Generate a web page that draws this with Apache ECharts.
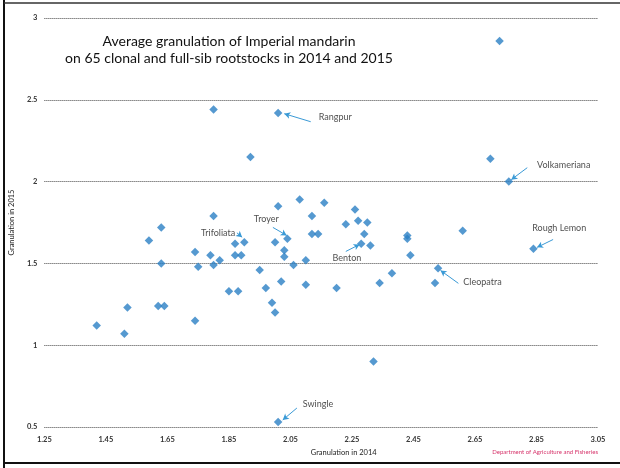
<!DOCTYPE html>
<html><head><meta charset="utf-8">
<script src="https://cdn.jsdelivr.net/npm/echarts@6/dist/echarts.min.js"></script>
<style>html,body{margin:0;padding:0;background:#fff}#c{width:620px;height:468px}</style>
</head><body><div id="c"></div><script>
// Average granulation per rootstock (2014 on x, 2015 on y)
const gran2014 = [1.80,2.01,1.92,2.73,2.70,2.76,1.80,2.01,2.08,2.16,2.12,1.63,1.59,1.87,1.90,2.04,2.00,2.12,2.14,1.74,1.79,1.87,1.89,2.03,2.03,1.82,1.80,1.63,1.75,1.95,2.06,2.02,1.97,1.85,1.88,1.99,1.62,1.64,2.00,2.26,2.23,2.27,2.30,2.29,2.28,2.31,2.43,2.43,2.44,2.10,2.10,2.20,2.34,2.38,2.53,2.52,2.61,2.84,2.32,1.52,1.74,1.42,1.51,2.01];
const gran2015 = [2.44,2.42,2.15,2.86,2.14,2.00,1.79,1.85,1.89,1.87,1.79,1.72,1.64,1.62,1.63,1.65,1.63,1.68,1.68,1.57,1.55,1.55,1.55,1.58,1.54,1.52,1.49,1.50,1.48,1.46,1.49,1.39,1.35,1.33,1.33,1.26,1.24,1.24,1.20,1.83,1.74,1.76,1.75,1.68,1.62,1.61,1.67,1.65,1.55,1.52,1.37,1.35,1.38,1.44,1.47,1.38,1.70,1.59,0.90,1.23,1.15,1.12,1.07,0.53];

// Named rootstocks: label anchor, arrow tail, arrow head (data units)
const annoNames = ['Rangpur','Trifoliata','Troyer','Benton','Volkameriana','Rough Lemon','Cleopatra','Swingle'];
const annoTextX = [2.142,1.759,1.931,2.187,2.852,2.836,2.612,2.090];
const annoTextY = [2.396,1.683,1.768,1.530,2.098,1.713,1.384,0.640];
const arrowFromX = [2.116,1.876,1.993,2.230,2.820,2.904,2.596,2.071];
const arrowFromY = [2.366,1.687,1.720,1.573,2.085,1.646,1.378,0.616];
const arrowToX   = [2.030,1.893,2.038,2.275,2.768,2.852,2.538,2.025];
const arrowToY   = [2.415,1.660,1.671,1.616,2.012,1.598,1.457,0.543];

const xMin = 1.25, xMax = 3.05, xStep = 0.2;
const yMin = 0.5, yMax = 3, yStep = 0.5;

const pts = gran2014.map((x, i) => [x, gran2015[i]]);
const labelPts = annoNames.map((n, i) => [annoTextX[i], annoTextY[i], n]);
const arrows = annoNames.map((n, i) => [{coord: [arrowFromX[i], arrowFromY[i]]}, {coord: [arrowToX[i], arrowToY[i]]}]);

const FONT = 'Lato';
const chart = echarts.init(document.getElementById('c'), null, {renderer: 'canvas'});
chart.setOption({
  animation: false,
  backgroundColor: '#fff',
  title: {
    text: 'Average granulation of Imperial mandarin\non 65 clonal and full-sib rootstocks in 2014 and 2015',
    left: 224, top: 28, textAlign: 'center',
    textStyle: {fontFamily: FONT, fontSize: 14, fontWeight: 'normal', color: '#111', lineHeight: 17}
  },
  grid: {left: 43, right: 22, top: 18, bottom: 41},
  xAxis: {
    type: 'value', min: xMin, max: xMax, interval: xStep,
    name: 'Granulation in 2014', nameLocation: 'middle', nameGap: 22,
    nameTextStyle: {fontFamily: FONT, fontSize: 7.5, color: '#222', padding: [0, 0, 0, 45]},
    axisLine: {show: false}, axisTick: {show: false}, splitLine: {show: false},
    axisLabel: {fontFamily: FONT, fontSize: 7.5, fontWeight: 'bold', color: '#333', margin: 9, formatter: v => v.toFixed(2)}
  },
  yAxis: {
    type: 'value', min: yMin, max: yMax, interval: yStep,
    name: 'Granulation in 2015', nameLocation: 'middle', nameGap: 22, nameRotate: 90,
    nameTextStyle: {fontFamily: FONT, fontSize: 7.5, color: '#222'},
    axisLine: {show: false}, axisTick: {show: false},
    axisLabel: {fontFamily: FONT, fontSize: 7.5, fontWeight: 'bold', color: '#333', margin: 7},
    splitLine: {show: true, lineStyle: {color: '#444', type: [1, 1], width: 1}}
  },
  series: [
    {
      type: 'scatter', data: pts, symbol: 'diamond', symbolSize: 8.5,
      itemStyle: {color: '#2a7fc4'}, z: 3,
      markLine: {
        silent: true, symbol: ['none', 'arrow'], symbolSize: [5, 6],
        label: {show: false},
        lineStyle: {color: '#3a9ad6', width: 1, type: 'solid'},
        data: arrows
      }
    },
    {
      type: 'scatter', data: labelPts, symbolSize: 0, silent: true, z: 4,
      label: {show: true, position: 'right', distance: 0, formatter: p => p.data[2],
        fontFamily: FONT, fontSize: 9, color: '#222'}
    }
  ],
  graphic: [
    {type: 'line', shape: {x1: 4, y1: 0, x2: 4, y2: 468}, style: {stroke: '#111', lineWidth: 2}},
    {type: 'line', shape: {x1: 4, y1: 3, x2: 620, y2: 3}, style: {stroke: '#333', lineWidth: 1.5}},
    {type: 'line', shape: {x1: 4, y1: 463, x2: 620, y2: 463}, style: {stroke: '#111', lineWidth: 2}},
    {type: 'text', right: 22, top: 449, style: {text: 'Department of Agriculture and Fisheries', fontFamily: FONT, fontSize: 6, fill: '#d6336a'}}
  ]
});
</script></body></html>
